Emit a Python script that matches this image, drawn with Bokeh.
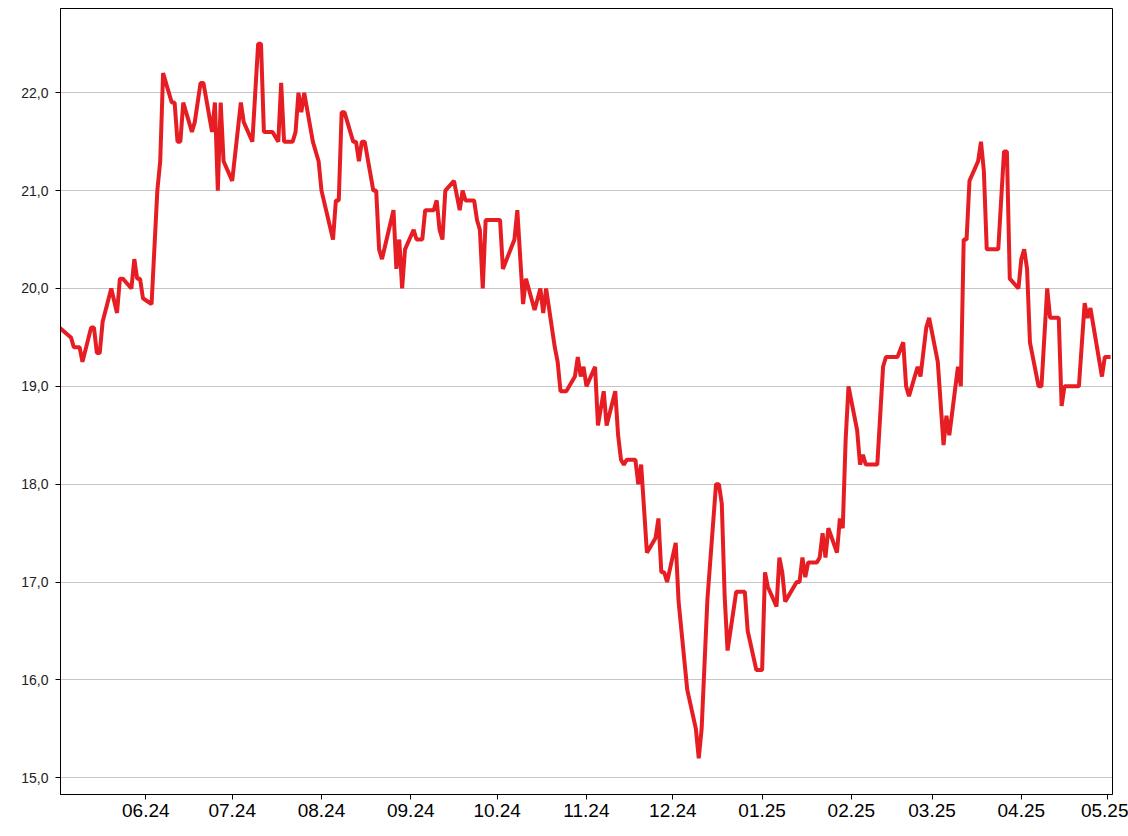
import pandas as pd
from bokeh.plotting import figure
from bokeh.models import Range1d, FixedTicker, DatetimeTickFormatter, ColumnDataSource
from bokeh.embed import file_html
from bokeh.resources import INLINE

dates = [
    "2024-05-02", "2024-05-06", "2024-05-07", "2024-05-09", "2024-05-10", "2024-05-13", "2024-05-14",
    "2024-05-15", "2024-05-16", "2024-05-17", "2024-05-20", "2024-05-22", "2024-05-23", "2024-05-24",
    "2024-05-27", "2024-05-28", "2024-05-29", "2024-05-30", "2024-05-31", "2024-06-03", "2024-06-05",
    "2024-06-06", "2024-06-07", "2024-06-10", "2024-06-11", "2024-06-12", "2024-06-13", "2024-06-14",
    "2024-06-17", "2024-06-18", "2024-06-20", "2024-06-21", "2024-06-24", "2024-06-25", "2024-06-26",
    "2024-06-27", "2024-06-28", "2024-07-01", "2024-07-04", "2024-07-05", "2024-07-08", "2024-07-10",
    "2024-07-11", "2024-07-12", "2024-07-15", "2024-07-17", "2024-07-18", "2024-07-19", "2024-07-22",
    "2024-07-23", "2024-07-24", "2024-07-25", "2024-07-26", "2024-07-29", "2024-07-31", "2024-08-01",
    "2024-08-05", "2024-08-06", "2024-08-07", "2024-08-08", "2024-08-09", "2024-08-12", "2024-08-13",
    "2024-08-14", "2024-08-15", "2024-08-16", "2024-08-19", "2024-08-20", "2024-08-21", "2024-08-22",
    "2024-08-26", "2024-08-27", "2024-08-28", "2024-08-29", "2024-08-30", "2024-09-02", "2024-09-03",
    "2024-09-05", "2024-09-06", "2024-09-09", "2024-09-10", "2024-09-11", "2024-09-12", "2024-09-13",
    "2024-09-16", "2024-09-18", "2024-09-19", "2024-09-20", "2024-09-23", "2024-09-24", "2024-09-25",
    "2024-09-26", "2024-09-27", "2024-10-02", "2024-10-03", "2024-10-07", "2024-10-08", "2024-10-10",
    "2024-10-11", "2024-10-14", "2024-10-16", "2024-10-17", "2024-10-18", "2024-10-21", "2024-10-22",
    "2024-10-23", "2024-10-25", "2024-10-28", "2024-10-29", "2024-10-30", "2024-10-31", "2024-11-01",
    "2024-11-04", "2024-11-05", "2024-11-07", "2024-11-08", "2024-11-11", "2024-11-12", "2024-11-13",
    "2024-11-14", "2024-11-15", "2024-11-18", "2024-11-19", "2024-11-20", "2024-11-22", "2024-11-25",
    "2024-11-26", "2024-11-27", "2024-11-28", "2024-11-29", "2024-12-02", "2024-12-03", "2024-12-06",
    "2024-12-09", "2024-12-10", "2024-12-11", "2024-12-13", "2024-12-16", "2024-12-17", "2024-12-18",
    "2024-12-19", "2024-12-20", "2024-12-23", "2024-12-26", "2024-12-27", "2024-12-30", "2025-01-01",
    "2025-01-02", "2025-01-03", "2025-01-06", "2025-01-07", "2025-01-08", "2025-01-09", "2025-01-13",
    "2025-01-14", "2025-01-15", "2025-01-16", "2025-01-17", "2025-01-20", "2025-01-21", "2025-01-22",
    "2025-01-23", "2025-01-24", "2025-01-27", "2025-01-28", "2025-01-29", "2025-01-30", "2025-01-31",
    "2025-02-03", "2025-02-04", "2025-02-05", "2025-02-06", "2025-02-10", "2025-02-12", "2025-02-13",
    "2025-02-17", "2025-02-19", "2025-02-20", "2025-02-21", "2025-02-24", "2025-02-25", "2025-02-27",
    "2025-02-28", "2025-03-03", "2025-03-05", "2025-03-06", "2025-03-07", "2025-03-10", "2025-03-11",
    "2025-03-12", "2025-03-13", "2025-03-14", "2025-03-17", "2025-03-18", "2025-03-19", "2025-03-20",
    "2025-03-24", "2025-03-26", "2025-03-27", "2025-03-28", "2025-03-31", "2025-04-01", "2025-04-02",
    "2025-04-03", "2025-04-04", "2025-04-07", "2025-04-08", "2025-04-10", "2025-04-11", "2025-04-14",
    "2025-04-15", "2025-04-16", "2025-04-21", "2025-04-23", "2025-04-24", "2025-04-25", "2025-04-29",
    "2025-04-30", "2025-05-02",
]

prices = [
    19.6, 19.5, 19.4, 19.4, 19.25, 19.6, 19.6,
    19.34, 19.34, 19.66, 20.0, 19.75, 20.1, 20.1,
    20.0, 20.3, 20.1, 20.1, 19.9, 19.84, 21.0,
    21.3, 22.2, 21.9, 21.9, 21.5, 21.5, 21.9,
    21.6, 21.7, 22.1, 22.1, 21.6, 21.9, 21.0,
    21.9, 21.3, 21.1, 21.9, 21.7, 21.5, 22.5,
    22.5, 21.6, 21.6, 21.5, 22.1, 21.5, 21.5,
    21.6, 22.0, 21.8, 22.0, 21.5, 21.3, 21.0,
    20.5, 20.9, 20.9, 21.8, 21.8, 21.5, 21.5,
    21.3, 21.5, 21.5, 21.0, 21.0, 20.4, 20.3,
    20.8, 20.2, 20.5, 20.0, 20.4, 20.6, 20.5,
    20.5, 20.8, 20.8, 20.9, 20.6, 20.5, 21.0,
    21.1, 20.8, 21.0, 20.9, 20.9, 20.7, 20.6,
    20.0, 20.7, 20.7, 20.2, 20.5, 20.8, 19.84,
    20.1, 19.78, 20.0, 19.75, 20.0, 19.4, 19.25,
    18.95, 18.95, 19.1, 19.3, 19.1, 19.2, 19.0,
    19.2, 18.6, 18.95, 18.6, 18.95, 18.5, 18.25,
    18.2, 18.25, 18.25, 18.0, 18.2, 17.3, 17.45,
    17.65, 17.1, 17.1, 17.0, 17.4, 16.8, 15.9,
    15.5, 15.2, 15.5, 16.82, 18.0, 18.0, 17.8,
    16.85, 16.3, 16.9, 16.9, 16.5, 16.1, 16.1,
    17.1, 16.95, 16.75, 17.25, 17.1, 16.8, 17.0,
    17.0, 17.25, 17.05, 17.2, 17.2, 17.25, 17.5,
    17.25, 17.55, 17.3, 17.65, 17.55, 18.45, 19.0,
    18.55, 18.2, 18.3, 18.2, 18.2, 19.2, 19.3,
    19.3, 19.45, 19.0, 18.9, 19.2, 19.1, 19.6,
    19.7, 19.25, 18.4, 18.7, 18.5, 19.2, 19.0,
    20.5, 20.5, 21.1, 21.3, 21.5, 21.2, 20.4,
    20.4, 21.4, 21.4, 20.1, 20.0, 20.3, 20.4,
    20.2, 19.45, 19.0, 19.0, 20.0, 19.7, 19.7,
    18.8, 19.0, 19.0, 19.85, 19.7, 19.8, 19.1,
    19.3, 19.3,
]

month_ticks = ["2024-06-01", "2024-07-01", "2024-08-01", "2024-09-01", "2024-10-01", "2024-11-01",
               "2024-12-01", "2025-01-01", "2025-02-01", "2025-03-01", "2025-04-01", "2025-05-01"]
y_ticks = [15, 16, 17, 18, 19, 20, 21, 22]

src = ColumnDataSource(dict(date=pd.to_datetime(dates), price=prices))

p = figure(width=1128, height=836, x_axis_type="datetime",
           output_backend="svg", toolbar_location=None,
           x_range=Range1d(pd.Timestamp("2024-05-02 09:00"), pd.Timestamp("2025-05-02 16:00")),
           y_range=Range1d(14.829, 22.861),
           min_border_left=60, min_border_right=16, min_border_top=8, min_border_bottom=42)

p.line("date", "price", source=src, line_color="#e61e24", line_width=4, line_join="bevel")

p.outline_line_color = "black"
p.outline_line_width = 1
p.background_fill_color = "white"
p.border_fill_color = "white"

p.xgrid.grid_line_color = None
p.ygrid.grid_line_color = "#8c8c8c"
p.ygrid.grid_line_dash = "1 1"
p.ygrid.grid_line_width = 1
p.ygrid.ticker = FixedTicker(ticks=y_ticks)

p.yaxis.ticker = FixedTicker(ticks=y_ticks)
p.yaxis.major_label_overrides = {t: f"{t},0" for t in y_ticks}
p.yaxis.major_label_text_font = "Liberation Sans"
p.yaxis.major_label_text_font_size = "14px"
p.yaxis.major_label_text_color = "#222222"
p.yaxis.major_label_standoff = 7
p.yaxis.major_tick_out = 5
p.yaxis.major_tick_in = 0
p.yaxis.minor_tick_line_color = None
p.yaxis.axis_line_color = "black"
p.yaxis.major_tick_line_color = "black"

tick_ms = [pd.Timestamp(t).value // 10**6 for t in month_ticks]
p.xaxis.ticker = FixedTicker(ticks=tick_ms)
fmt = "%m.%y"
p.xaxis.formatter = DatetimeTickFormatter(milliseconds=fmt, seconds=fmt, minsec=fmt, minutes=fmt,
                                          hourmin=fmt, hours=fmt, days=fmt, months=fmt, years=fmt)
p.xaxis.major_label_text_font = "Liberation Sans"
p.xaxis.major_label_text_font_size = "19px"
p.xaxis.major_label_text_color = "black"
p.xaxis.major_label_standoff = 4
p.xaxis.major_tick_out = 5
p.xaxis.major_tick_in = 0
p.xaxis.minor_tick_line_color = None
p.xaxis.axis_line_color = "black"
p.xaxis.major_tick_line_color = "black"

open("out.html", "w").write(file_html(p, INLINE))
